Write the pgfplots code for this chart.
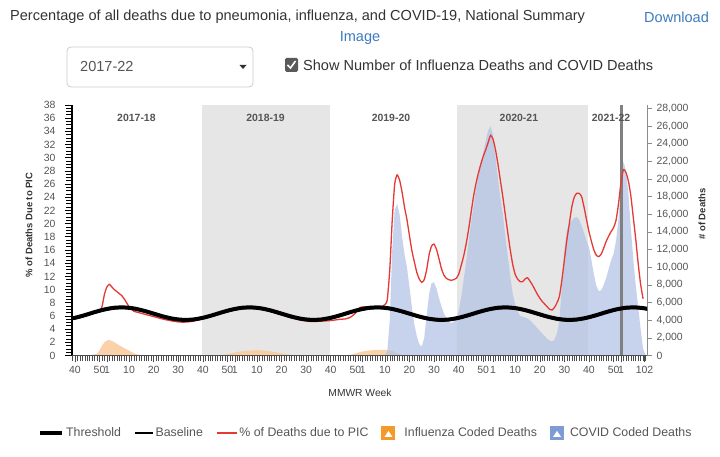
\documentclass[border=0pt]{standalone}
\usepackage{fontspec}
\setmainfont{Liberation Sans}
\usepackage{pgfplots}
\usepackage{pgfplotstable}
\pgfplotsset{compat=1.18}
\definecolor{txt}{HTML}{333333}
\definecolor{txtb}{HTML}{555555}
\definecolor{link}{HTML}{3C7BBF}
\definecolor{boxgray}{HTML}{CCCCCC}
\definecolor{chk}{HTML}{5A5A5A}
\definecolor{band}{HTML}{E6E6E6}
\definecolor{picred}{HTML}{E53935}
\definecolor{covidfill}{HTML}{B2C2E4}
\definecolor{flufill}{HTML}{F9C99A}
\definecolor{fluicon}{HTML}{F39A2B}
\definecolor{covidicon}{HTML}{7F9BD3}
\definecolor{vline}{HTML}{808080}

% % of deaths due to PIC (left axis)
\pgfplotstableread{
t v
0 5.6
2 5.75
4 5.95
6 6.2
8 6.45
10 6.8
11 7.4
12 9.3
13 10.4
14 10.8
15 10.4
16 10.0
17 9.7
18 9.4
19 9.1
20 8.6
21 8.0
22 7.4
23 7.0
24 6.7
26 6.5
28 6.3
30 6.1
32 5.9
34 5.7
36 5.5
38 5.35
40 5.2
42 5.1
44 5.05
46 5.1
48 5.2
50 5.4
52 5.6
56 6.0
60 6.45
64 6.85
68 7.15
70 7.25
72 7.2
74 7.35
76 7.0
78 6.85
80 6.6
84 6.15
88 5.7
92 5.35
96 5.15
100 5.2
104 5.3
106 5.4
108 5.5
110 5.55
112 5.8
114 6.4
115 7.0
116 7.3
118 7.4
120 7.2
122 7.15
124 7.3
126 7.7
127 8.5
128 13.0
129 20.5
130 26.0
131 27.4
132 26.6
133 24.8
134 22.5
135 20.6
136 18.2
137 15.9
138 14.2
139 12.6
140 11.6
141 11.1
142 11.5
143 13.0
144 15.3
145 16.6
146 16.9
147 16.1
148 14.7
149 13.2
150 12.2
151 11.7
152 11.5
153 11.4
154 11.5
155 11.7
156 12.3
157 13.6
158 15.0
159 16.8
160 19.0
161 21.5
162 24.0
163 26.0
164 27.6
165 29.0
166 30.2
167 31.2
168 32.3
169 33.4
170 32.8
171 31.2
172 29.0
173 26.5
174 24.0
175 21.3
176 18.6
177 16.0
178 13.8
179 12.3
180 11.6
181 11.2
182 11.2
183 11.6
184 11.8
185 11.3
186 10.7
187 10.0
188 9.3
189 8.7
190 8.2
191 7.8
192 7.4
193 7.0
194 6.9
195 7.3
196 8.0
197 9.0
198 11.5
199 14.5
200 17.5
201 20.0
202 22.5
203 24.0
204 24.6
205 24.6
206 24.1
207 22.5
208 20.6
209 18.8
210 17.3
211 16.0
212 15.2
213 15.0
214 15.4
215 16.3
216 17.3
217 18.1
218 18.8
219 19.4
220 20.5
221 23.0
222 26.2
223 28.2
224 27.8
225 26.5
226 24.3
227 21.0
228 17.7
229 14.0
230 10.8
231 8.6
}\pic

% baseline and threshold (left axis)
\pgfplotstableread{
t base thr
-4 5.31 5.46
0 5.57 5.72
4 5.97 6.12
8 6.43 6.58
12 6.83 6.98
16 7.09 7.24
20 7.14 7.29
24 6.98 7.13
28 6.64 6.79
32 6.20 6.35
36 5.76 5.91
40 5.42 5.57
44 5.26 5.41
48 5.31 5.46
52 5.57 5.72
56 5.97 6.12
60 6.43 6.58
64 6.83 6.98
68 7.09 7.24
72 7.14 7.29
76 6.98 7.13
80 6.64 6.79
84 6.20 6.35
88 5.76 5.91
92 5.42 5.57
96 5.26 5.41
100 5.31 5.46
104 5.57 5.72
108 5.97 6.12
112 6.43 6.58
116 6.83 6.98
120 7.09 7.24
124 7.14 7.29
128 6.98 7.13
132 6.64 6.79
136 6.20 6.35
140 5.76 5.91
144 5.42 5.57
148 5.26 5.41
152 5.31 5.46
156 5.57 5.72
160 5.97 6.12
164 6.43 6.58
168 6.83 6.98
172 7.09 7.24
176 7.14 7.29
180 6.98 7.13
184 6.64 6.79
188 6.20 6.35
192 5.76 5.91
196 5.42 5.57
200 5.26 5.41
204 5.31 5.46
208 5.57 5.72
212 5.97 6.12
216 6.43 6.58
220 6.83 6.98
224 7.09 7.24
228 7.14 7.29
232 6.98 7.13
236 6.64 6.79
}\basethr

% COVID coded deaths (right axis)
\pgfplotstableread{
t d
126 0
127 500
128 4000
129 12000
130 16500
131 17200
132 16000
133 13500
134 11500
135 10000
136 7800
137 5500
138 3500
139 2200
140 1300
141 1000
142 2000
143 4500
144 7000
145 8200
146 8300
147 7600
148 6500
149 5600
150 4800
151 4200
152 3800
153 3700
154 3800
155 4100
156 5000
157 6500
158 8500
159 10500
160 12800
161 15000
162 16800
163 18800
164 20300
165 21700
166 23000
167 24300
168 25500
169 26000
170 25000
171 22500
172 20000
173 17800
174 16000
175 13500
176 11200
177 9000
178 7000
179 5800
180 5000
181 4500
182 4400
183 4300
184 4200
185 4000
186 3700
187 3400
188 3100
189 2800
190 2500
191 2200
192 1900
193 1700
194 1600
195 1800
196 2500
197 4000
198 8000
199 12000
200 14200
201 15000
202 15300
203 15600
204 15700
205 15400
206 14700
207 13900
208 13000
209 12300
210 10800
211 9200
212 7900
213 7300
214 7400
215 8000
216 8800
217 9800
218 10800
219 11500
220 13000
221 15500
222 19500
223 22000
224 21000
225 18500
226 14500
227 11000
228 8000
229 5500
230 3000
231 800
232 0
}\covid

% Influenza coded deaths (right axis)
\pgfplotstableread{
t d
6 0
9 200
10 600
11 1100
12 1500
13 1700
14 1750
15 1650
16 1500
17 1330
18 1150
19 1000
20 850
21 700
22 550
23 400
24 250
25 150
26 90
28 40
30 0
58 0
62 150
66 400
70 550
74 600
78 550
82 350
86 150
90 0
110 0
113 150
116 400
119 550
122 620
125 650
128 600
130 400
132 100
134 0
232 0
}\flu

\begin{document}
\begin{tikzpicture}[x=1bp,y=1bp]
\path[use as bounding box] (0,0) rectangle (720,457);

% header
\node[anchor=west,inner sep=0,text=txt,font=\fontsize{14.6}{17}\selectfont] at (10,440) {Percentage of all deaths due to pneumonia, influenza, and COVID-19, National Summary};
\node[anchor=west,inner sep=0,text=link,font=\fontsize{14.6}{17}\selectfont] at (644,440) {Download};
\node[inner sep=0,text=link,font=\fontsize{14.6}{17}\selectfont] at (360,419) {Image};
\draw[draw=boxgray, rounded corners=4bp, line width=0.8bp] (67,370) rectangle (253,410);
\node[anchor=west,inner sep=0,text=txtb,font=\fontsize{14.6}{17}\selectfont] at (80,390) {2017-22};
\fill[txt] (239.5,392) -- (246.5,392) -- (243,388) -- cycle;
\fill[chk, rounded corners=1.5bp] (285,385) rectangle (298,399);
\draw[white, line width=1.6bp] (287.5,392) -- (290.5,389) -- (295.5,396);
\node[anchor=west,inner sep=0,text=txt,font=\fontsize{14.6}{17}\selectfont] at (303,392) {Show Number of Influenza Deaths and COVID Deaths};

% axis titles
\node[inner sep=0,text=txt,font=\fontsize{10.3}{12}\selectfont] at (360,64) {MMWR Week};
\node[inner sep=0,rotate=90,text=txt,font=\bfseries\fontsize{9.5}{12}\selectfont] at (29,232) {\% of Deaths Due to PIC};
\node[inner sep=0,rotate=90,text=txt,font=\bfseries\fontsize{9.5}{12}\selectfont] at (702,243) {\# of Deaths};

% right axis: deaths
\begin{axis}[
  at={(72bp,101.5bp)}, anchor=south west, scale only axis,
  width=575bp, height=250.5bp,
  xmin=-1.2, xmax=232.6, ymin=0, ymax=28400,
  axis x line=none, axis y line*=right,
  y axis line style={draw=black!45, line width=0.6bp},
  ytick={0,2000,...,28000}, scaled y ticks=false,
  tick align=outside, major tick length=5bp,
  ytick style={draw=black!45, line width=0.6bp},
  yticklabel style={font=\fontsize{10.5}{12}\selectfont, text=txtb, xshift=1bp},
  /pgf/number format/assume math mode=true,
  /pgf/number format/1000 sep={,},
]
\fill[band] (axis cs:51.5,0) rectangle (axis cs:103.5,28400);
\fill[band] (axis cs:155.5,0) rectangle (axis cs:208.5,28400);
\addplot[draw=none, fill=flufill, fill opacity=0.85] table[x=t,y=d] {\flu} \closedcycle;
\addplot[draw=none, fill=covidfill, fill opacity=0.72] table[x=t,y=d] {\covid} \closedcycle;
\end{axis}

% left axis: percentage
\begin{axis}[
  at={(72bp,101.5bp)}, anchor=south west, scale only axis,
  width=575bp, height=250.5bp,
  xmin=-1.2, xmax=232.6, ymin=0, ymax=38,
  axis x line*=bottom, axis y line*=left,
  x axis line style={draw=black!70, line width=0.6bp},
  y axis line style={draw=black, line width=1.3bp},
  ytick={0,2,...,38}, minor y tick num=3,
  xtick={0,10,13,22,32,42,52,62,65,74,84,94,104,114,117,126,136,146,156,166,170,179,189,199,209,219,222,231.6},
  xticklabels={40,50,1,10,20,30,40,50,1,10,20,30,40,50,1,10,20,30,40,50,1,10,20,30,40,50,1,102},
  minor xtick={-1,0,...,232},
  tick align=outside, major tick length=7bp, minor tick length=6bp,
  xtick style={draw=black!70, line width=0.5bp},
  ytick style={draw=black, line width=0.8bp},
  xticklabel style={font=\fontsize{10.5}{12}\selectfont, text=txtb},
  yticklabel style={font=\fontsize{10.5}{12}\selectfont, text=txtb, xshift=-6bp},
  /pgf/number format/assume math mode=true,
  legend style={at={(0.511,-0.309)}, anchor=center, draw=none, fill=none,
    font=\fontsize{12.4}{14}\selectfont, text=txtb, legend columns=-1,
    /tikz/every even column/.append style={column sep=11bp}},
]
\draw[vline, line width=3bp] (axis cs:222.4,0) -- (axis cs:222.4,38);
\addplot[picred, line width=1.3bp, smooth, tension=0.35, forget plot] table[x=t,y=v] {\pic};
\addplot[black, line width=4bp, smooth, forget plot] table[x=t,y=thr] {\basethr};
\addplot[black, line width=1.3bp, smooth, forget plot] table[x=t,y=base] {\basethr};

\node[font=\bfseries\fontsize{10.5}{12}\selectfont, text=txtb] at (axis cs:25,36.1) {2017-18};
\node[font=\bfseries\fontsize{10.5}{12}\selectfont, text=txtb] at (axis cs:77.5,36.1) {2018-19};
\node[font=\bfseries\fontsize{10.5}{12}\selectfont, text=txtb] at (axis cs:128.5,36.1) {2019-20};
\node[font=\bfseries\fontsize{10.5}{12}\selectfont, text=txtb] at (axis cs:180.5,36.1) {2020-21};
\node[font=\bfseries\fontsize{10.5}{12}\selectfont, text=txtb] at (axis cs:218,36.1) {2021-22};

\addlegendimage{legend image code/.code={\draw[black,line width=4bp] (0,0) -- (22bp,0);}}
\addlegendentry{Threshold}
\addlegendimage{legend image code/.code={\draw[black,line width=1.5bp] (0,0) -- (18bp,0);}}
\addlegendentry{Baseline}
\addlegendimage{legend image code/.code={\draw[picred,line width=1.5bp] (0,0) -- (20bp,0);}}
\addlegendentry{\% of Deaths due to PIC}
\addlegendimage{legend image code/.code={\path[draw=none,fill=none] (0bp,0bp) -- (21bp,0bp); \fill[fluicon,draw=none] (0bp,-7bp) rectangle (14bp,7bp); \fill[white,draw=none] (3bp,-4bp) -- (7bp,2bp) -- (11bp,-4bp) -- cycle;}}
\addlegendentry{Influenza Coded Deaths}
\addlegendimage{legend image code/.code={\path[draw=none,fill=none] (0bp,0bp) -- (18bp,0bp); \fill[covidicon,draw=none] (0bp,-7bp) rectangle (14bp,7bp); \fill[white,draw=none] (3bp,-4bp) -- (7bp,2bp) -- (11bp,-4bp) -- cycle;}}
\addlegendentry{COVID Coded Deaths}
\end{axis}
\end{tikzpicture}
\end{document}
